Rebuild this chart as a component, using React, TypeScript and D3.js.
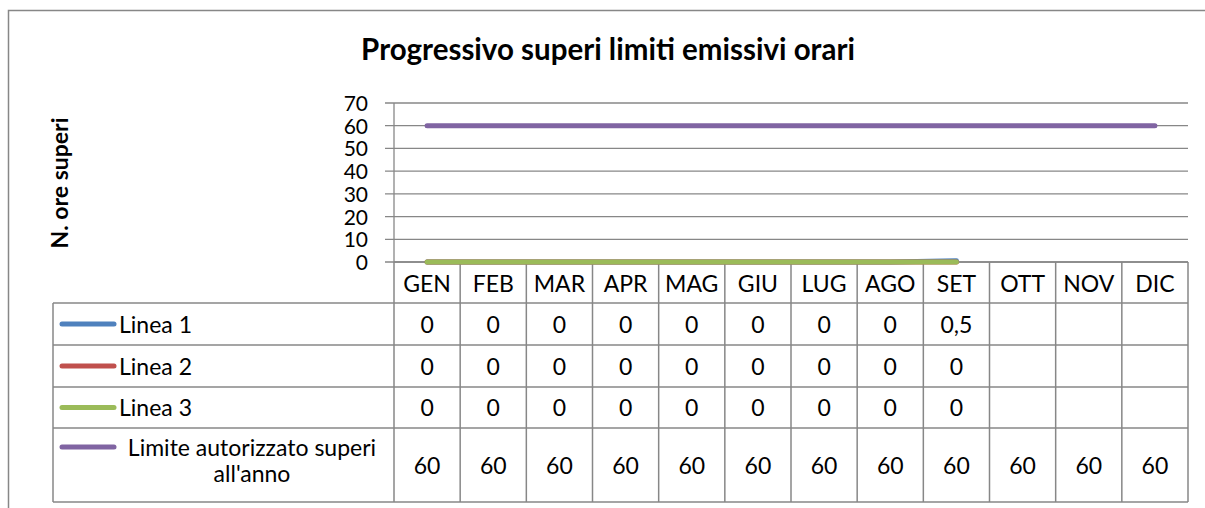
import React, { useEffect, useRef } from 'react';
import * as d3 from 'd3';

// Chart data
const months = ['GEN', 'FEB', 'MAR', 'APR', 'MAG', 'GIU', 'LUG', 'AGO', 'SET', 'OTT', 'NOV', 'DIC'];
const linea1 = [0, 0, 0, 0, 0, 0, 0, 0, 0.5, null, null, null];
const linea2 = [0, 0, 0, 0, 0, 0, 0, 0, 0, null, null, null];
const linea3 = [0, 0, 0, 0, 0, 0, 0, 0, 0, null, null, null];
const limite = [60, 60, 60, 60, 60, 60, 60, 60, 60, 60, 60, 60];
const yTicks = [0, 10, 20, 30, 40, 50, 60, 70];

const seriesNames = [['Linea 1'], ['Linea 2'], ['Linea 3'], ['Limite autorizzato superi', "all'anno"]];
const seriesValues = [linea1, linea2, linea3, limite];
const colors = ['#4F81BD', '#C0504D', '#9BBB59', '#8064A2'];

const FONT = 'Lato, "Open Sans", sans-serif';

const App = () => {
  const svgRef = useRef<SVGSVGElement>(null);

  useEffect(() => {
    const svg = d3.select(svgRef.current);
    svg.selectAll('*').remove();

    const W = 1205;
    const H = 508;
    const plotLeft = 394;
    const plotRight = 1188;
    const plotTop = 103;
    const plotBottom = 262;
    const tableLeft = 53;
    const rowEdges = [262, 303, 345, 387, 428, 502];
    const grey = '#878787';
    const fs = 23;

    svg.attr('width', W).attr('height', H);

    svg.append('rect')
      .attr('width', W).attr('height', H)
      .attr('fill', '#fff');

    // outer chart frame (cut at right/bottom)
    svg.append('rect')
      .attr('x', 8.5).attr('y', 10.5)
      .attr('width', W + 20).attr('height', H + 20)
      .attr('fill', 'none')
      .attr('stroke', grey)
      .attr('stroke-width', 1.5);

    const x = d3.scaleBand<string>()
      .domain(months)
      .range([plotLeft, plotRight]);

    const y = d3.scaleLinear()
      .domain([0, 70])
      .range([plotBottom, plotTop]);

    // title
    svg.append('text')
      .attr('x', 608)
      .attr('y', 60)
      .attr('text-anchor', 'middle')
      .attr('font-family', FONT)
      .attr('font-weight', 'bold')
      .attr('font-size', 29.5)
      .text('Progressivo superi limiti emissivi orari');

    // y axis title
    svg.append('text')
      .attr('transform', `translate(68,183) rotate(-90)`)
      .attr('text-anchor', 'middle')
      .attr('font-family', FONT)
      .attr('font-weight', 'bold')
      .attr('font-size', 23)
      .text('N. ore superi');

    // gridlines and ticks
    svg.append('g')
      .selectAll('line')
      .data(yTicks)
      .enter()
      .append('line')
      .attr('x1', plotLeft - 9)
      .attr('x2', plotRight)
      .attr('y1', d => y(d))
      .attr('y2', d => y(d))
      .attr('stroke', grey)
      .attr('stroke-width', 1.3);

    svg.append('line')
      .attr('x1', plotLeft).attr('x2', plotLeft)
      .attr('y1', plotTop).attr('y2', plotBottom)
      .attr('stroke', grey)
      .attr('stroke-width', 1.3);

    svg.append('g')
      .selectAll('text')
      .data(yTicks)
      .enter()
      .append('text')
      .attr('x', 368)
      .attr('y', d => y(d) + 8)
      .attr('text-anchor', 'end')
      .attr('font-family', FONT)
      .attr('font-size', 21)
      .text(d => d);

    // data table grid
    const tableG = svg.append('g')
      .attr('stroke', grey)
      .attr('stroke-width', 1.5)
      .attr('fill', 'none');

    rowEdges.forEach((ry, i) => {
      tableG.append('line')
        .attr('x1', i === 0 ? plotLeft : tableLeft)
        .attr('x2', plotRight)
        .attr('y1', ry).attr('y2', ry);
    });
    tableG.append('line')
      .attr('x1', tableLeft).attr('x2', tableLeft)
      .attr('y1', rowEdges[1]).attr('y2', rowEdges[5]);
    months.forEach(m => {
      tableG.append('line')
        .attr('x1', x(m)!).attr('x2', x(m)!)
        .attr('y1', rowEdges[0]).attr('y2', rowEdges[5]);
    });
    tableG.append('line')
      .attr('x1', plotRight).attr('x2', plotRight)
      .attr('y1', rowEdges[0]).attr('y2', rowEdges[5]);

    const cx = (m: string) => x(m)! + x.bandwidth() / 2;

    // header row
    svg.append('g')
      .selectAll('text')
      .data(months)
      .enter()
      .append('text')
      .attr('x', d => cx(d))
      .attr('y', (rowEdges[0] + rowEdges[1]) / 2 + 9)
      .attr('text-anchor', 'middle')
      .attr('font-family', FONT)
      .attr('font-size', fs)
      .text(d => d);

    const fmt = (v: number | null) => (v === null ? '' : String(v).replace('.', ','));

    seriesValues.forEach((vals, si) => {
      const rc = (rowEdges[si + 1] + rowEdges[si + 2]) / 2;
      // values
      svg.append('g')
        .selectAll('text')
        .data(vals)
        .enter()
        .append('text')
        .attr('x', (d, i) => cx(months[i]))
        .attr('y', rc + 8.5)
        .attr('text-anchor', 'middle')
        .attr('font-family', FONT)
        .attr('font-size', fs)
        .text(d => fmt(d));

      // legend key + label
      const names = seriesNames[si];
      const ly = names.length > 1 ? rc - 18 : rc;
      svg.append('line')
        .attr('x1', 62).attr('x2', 114)
        .attr('y1', ly).attr('y2', ly)
        .attr('stroke', colors[si])
        .attr('stroke-width', 5)
        .attr('stroke-linecap', 'round');
      if (names.length === 1) {
        svg.append('text')
          .attr('x', 119)
          .attr('y', ly + 8.5)
          .attr('font-family', FONT)
          .attr('font-size', fs)
          .text(names[0]);
      } else {
        names.forEach((n, k) => {
          svg.append('text')
            .attr('x', 252)
            .attr('y', ly + 8.5 + k * 26)
            .attr('text-anchor', 'middle')
            .attr('font-family', FONT)
            .attr('font-size', fs)
            .text(n);
        });
      }
    });

    // series lines
    const line = d3.line<{ m: string; v: number | null }>()
      .defined(d => d.v !== null)
      .x(d => cx(d.m))
      .y(d => y(d.v as number));

    seriesValues.forEach((vals, si) => {
      svg.append('path')
        .datum(vals.map((v, i) => ({ m: months[i], v })))
        .attr('fill', 'none')
        .attr('stroke', colors[si])
        .attr('stroke-width', 5)
        .attr('stroke-linecap', 'round')
        .attr('stroke-linejoin', 'round')
        .attr('d', line);
    });
  }, []);

  return (
    <div style={{ position: 'absolute', left: 0, top: 0 }}>
      <svg ref={svgRef} style={{ display: 'block' }}></svg>
    </div>
  );
};

export default App;
